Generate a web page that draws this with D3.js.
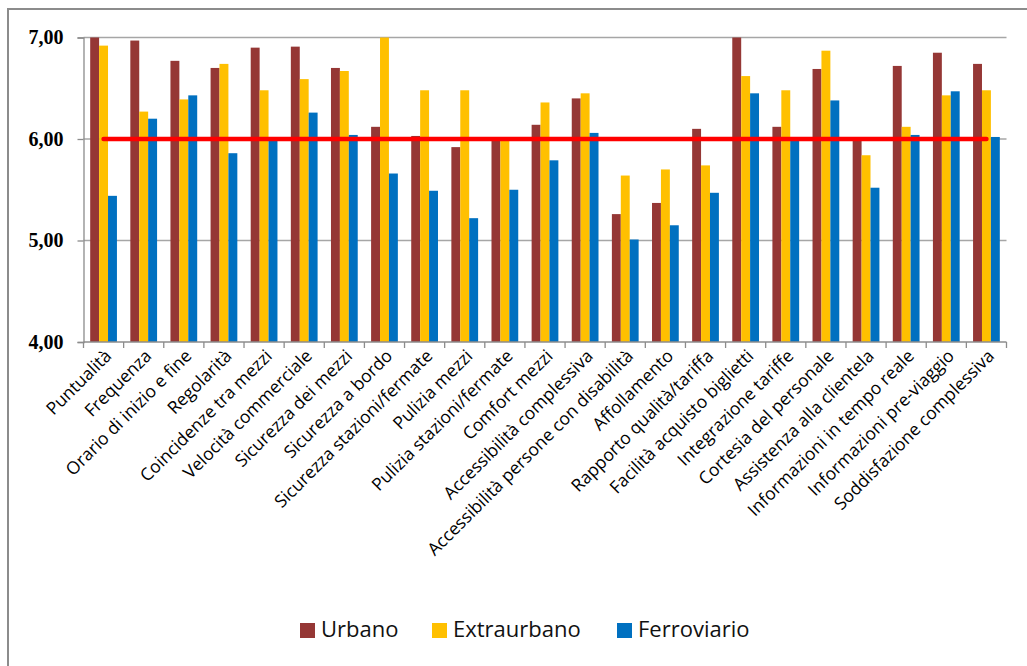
<!DOCTYPE html>
<html>
<head>
<meta charset="utf-8">
<script src="https://cdn.jsdelivr.net/npm/d3@7"></script>
<style>
  html, body { margin: 0; padding: 0; background: #fff; }
  svg { display: block; }
</style>
</head>
<body>
<svg id="chart" width="1027" height="666"></svg>
<script>
// Customer satisfaction scores by service aspect and transport mode
const categories = [
  "Puntualità", "Frequenza", "Orario di inizio e fine", "Regolarità",
  "Coincidenze tra mezzi", "Velocità commerciale", "Sicurezza dei mezzi",
  "Sicurezza a bordo", "Sicurezza stazioni/fermate", "Pulizia mezzi",
  "Pulizia stazioni/fermate", "Comfort mezzi", "Accessibilità complessiva",
  "Accessibilità persone con disabilità", "Affollamento",
  "Rapporto qualità/tariffa", "Facilità acquisto biglietti",
  "Integrazione tariffe", "Cortesia del personale", "Assistenza alla clientela",
  "Informazioni in tempo reale", "Informazioni pre-viaggio",
  "Soddisfazione complessiva"
];

const seriesNames = ["Urbano", "Extraurbano", "Ferroviario"];

const urbano = [
  7.00, 6.97, 6.77, 6.70, 6.90, 6.91, 6.70, 6.12, 6.03, 5.92, 6.00, 6.14,
  6.40, 5.26, 5.37, 6.10, 7.00, 6.12, 6.69, 5.99, 6.72, 6.85, 6.74
];
const extraurbano = [
  6.92, 6.27, 6.39, 6.74, 6.48, 6.59, 6.67, 7.00, 6.48, 6.48, 5.99, 6.36,
  6.45, 5.64, 5.70, 5.74, 6.62, 6.48, 6.87, 5.84, 6.12, 6.43, 6.48
];
const ferroviario = [
  5.44, 6.20, 6.43, 5.86, 5.99, 6.26, 6.04, 5.66, 5.49, 5.22, 5.50, 5.79,
  6.06, 5.01, 5.15, 5.47, 6.45, 5.99, 6.38, 5.52, 6.04, 6.47, 6.02
];

// Reference threshold drawn as a red line across all categories
const soglia = 6.00;

const yTicks = [4, 5, 6, 7];

const colors = ["#953735", "#FFC000", "#0070C0"];

const svg = d3.select("#chart");

// Outer chart frame
svg.append("rect")
  .attr("x", 8).attr("y", 9)
  .attr("width", 1100).attr("height", 700)
  .attr("fill", "none")
  .attr("stroke", "#8c8c8c")
  .attr("stroke-width", 2);

const plot = { left: 83.5, right: 1006.5, top: 37.5, bottom: 342 };

const x0 = d3.scaleBand()
  .domain(categories)
  .range([plot.left, plot.right])
  .paddingInner(0).paddingOuter(0);

const x1 = d3.scaleBand()
  .domain(seriesNames)
  .range([0, x0.bandwidth()])
  .paddingInner(0)
  .paddingOuter(0.75);

const y = d3.scaleLinear()
  .domain([4, 7])
  .range([plot.bottom, plot.top]);

const fmt = v => d3.format(".2f")(v).replace(".", ",");

// Horizontal gridlines
svg.append("g")
  .selectAll("line")
  .data(yTicks.filter(t => t > 4))
  .join("line")
  .attr("x1", plot.left).attr("x2", plot.right)
  .attr("y1", d => y(d)).attr("y2", d => y(d))
  .attr("stroke", "#a6a6a6")
  .attr("stroke-width", 1.3);

// Y axis
const yAxis = svg.append("g")
  .attr("transform", `translate(${plot.left},0)`)
  .call(d3.axisLeft(y).tickValues(yTicks).tickFormat(fmt).tickSize(6).tickPadding(14));
yAxis.select(".domain").attr("stroke", "#8c8c8c").attr("stroke-width", 1.3);
yAxis.selectAll(".tick line").attr("stroke", "#8c8c8c").attr("stroke-width", 1.3);
yAxis.selectAll(".tick text")
  .attr("font-family", "'Liberation Serif', serif")
  .attr("font-size", 20)
  .attr("font-weight", 600)
  .attr("fill", "#000");

// Bars
const seriesData = [urbano, extraurbano, ferroviario];
const groups = svg.append("g")
  .selectAll("g")
  .data(categories)
  .join("g")
  .attr("transform", d => `translate(${x0(d)},0)`);

groups.selectAll("rect")
  .data((c, i) => seriesNames.map((s, k) => ({ s, k, v: seriesData[k][i] })))
  .join("rect")
  .attr("x", d => x1(d.s))
  .attr("width", x1.bandwidth())
  .attr("y", d => y(d.v))
  .attr("height", d => y(4) - y(d.v))
  .attr("fill", d => colors[d.k]);

// X axis with boundary ticks
const xAxisG = svg.append("g")
  .attr("transform", `translate(0,${plot.bottom})`);
xAxisG.append("line")
  .attr("x1", plot.left).attr("x2", plot.right)
  .attr("stroke", "#8c8c8c").attr("stroke-width", 1.3);
const boundaries = categories.map(c => x0(c)).concat([plot.right]);
xAxisG.selectAll("line.b")
  .data(boundaries)
  .join("line")
  .attr("class", "b")
  .attr("x1", d => d).attr("x2", d => d)
  .attr("y1", 0).attr("y2", 6)
  .attr("stroke", "#8c8c8c").attr("stroke-width", 1.3);

// Rotated category labels
svg.append("g")
  .selectAll("text")
  .data(categories)
  .join("text")
  .attr("transform", d => `translate(${x0(d) + x0.bandwidth() / 2 + 9},${plot.bottom + 15}) rotate(-45)`)
  .attr("text-anchor", "end")
  .attr("font-family", "'Open Sans', sans-serif")
  .attr("font-size", 17.5)
  .attr("fill", "#000")
  .text(d => d);

// Threshold line
const line = d3.line()
  .x(d => x0(d) + x0.bandwidth() / 2)
  .y(() => y(soglia));
svg.append("path")
  .datum(categories)
  .attr("d", line)
  .attr("fill", "none")
  .attr("stroke", "#FF0000")
  .attr("stroke-width", 4.5)
  .attr("stroke-linecap", "round");

// Legend
const legendX = [300, 432, 617];
const legend = svg.append("g")
  .selectAll("g")
  .data(seriesNames)
  .join("g")
  .attr("transform", (d, i) => `translate(${legendX[i]},623)`);
legend.append("rect")
  .attr("width", 15).attr("height", 15)
  .attr("fill", (d, i) => colors[i]);
legend.append("text")
  .attr("x", 21).attr("y", 14)
  .attr("font-family", "'Open Sans', sans-serif")
  .attr("font-size", 22)
  .attr("fill", "#111")
  .text(d => d);
</script>
</body>
</html>
